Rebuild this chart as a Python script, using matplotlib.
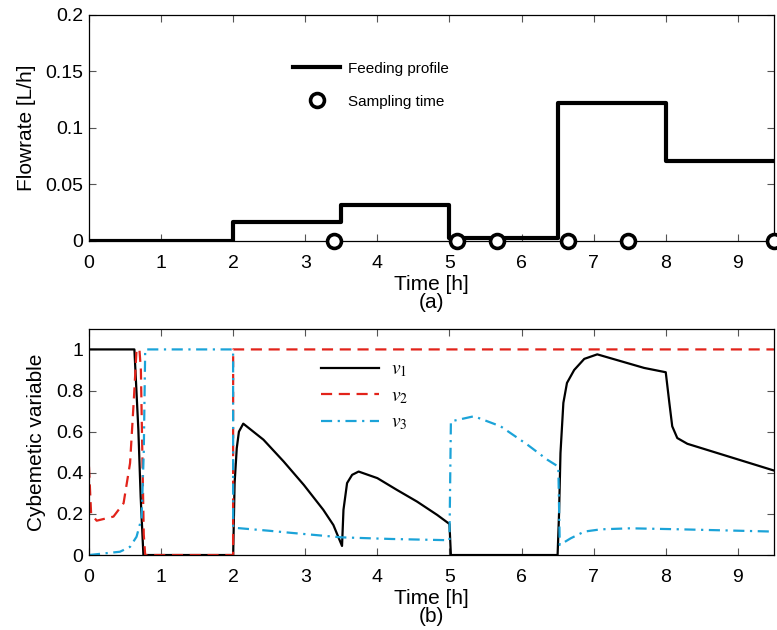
import matplotlib.pyplot as plt

plt.rcParams['font.family'] = ['Liberation Sans', 'DejaVu Sans']
plt.rcParams['mathtext.fontset'] = 'stix'

# (a) feeding profile, piecewise constant
feed_t = [0, 2.0, 3.5, 5.0, 6.5, 8.0, 9.5]
feed_q = [0.0, 0.017, 0.032, 0.003, 0.122, 0.071, 0.071]
sample_t = [3.4, 5.1, 5.66, 6.65, 7.48, 9.5]

# (b) cybernetic variables
t_v1 = [0, 0.63, 0.685, 0.717, 0.755, 2.0, 2.02, 2.05, 2.08, 2.14, 2.42, 2.70, 2.98,
        3.25, 3.39, 3.51, 3.53, 3.58, 3.65, 3.74, 4.0, 4.27, 4.55, 4.83, 5.0, 5.02,
        6.5, 6.52, 6.54, 6.58, 6.63, 6.73, 6.87, 7.05, 7.375, 7.70, 8.0, 8.05, 8.09,
        8.16, 8.30, 9.5]
v1 = [1.0, 1.0, 0.61, 0.284, 0.0, 0.0, 0.35, 0.52, 0.60, 0.639, 0.561, 0.455, 0.341,
      0.22, 0.146, 0.044, 0.22, 0.35, 0.39, 0.406, 0.374, 0.317, 0.26, 0.195, 0.151, 0.0,
      0.0, 0.20, 0.496, 0.74, 0.837, 0.90, 0.954, 0.976, 0.943, 0.91, 0.889, 0.74, 0.626,
      0.569, 0.541, 0.411]

t_v2 = [0, 0.03, 0.107, 0.34, 0.48, 0.57, 0.625, 0.66, 0.70, 0.72, 0.74, 0.76, 0.78,
        1.999, 2.0, 9.5]
v2 = [0.43, 0.20, 0.167, 0.187, 0.252, 0.447, 0.772, 1.0, 1.0, 0.9, 0.5, 0.1, 0.0,
      0.0, 1.0, 1.0]

t_v3 = [0, 0.43, 0.57, 0.66, 0.73, 0.76, 0.78, 1.999, 2.0, 2.5, 2.8, 3.5, 4.2, 5.0,
        5.02, 5.34, 5.71, 6.08, 6.36, 6.51, 6.53, 6.68, 6.87, 7.10, 7.51, 8.21, 9.5]
v3 = [0.0, 0.016, 0.04, 0.089, 0.18, 0.5, 1.0, 1.0, 0.133, 0.118, 0.108, 0.086, 0.078, 0.072,
      0.65, 0.675, 0.626, 0.537, 0.463, 0.43, 0.049, 0.081, 0.114, 0.125, 0.13, 0.125, 0.114]

x_ticks = list(range(10))

fig = plt.figure(figsize=(7.77, 6.3), dpi=100)
ax1 = fig.add_axes([0.1145, 0.6175, 0.8815, 0.3587])
ax2 = fig.add_axes([0.1145, 0.119, 0.8815, 0.359])

# top panel
ax1.plot(feed_t, feed_q, drawstyle='steps-post', color='black', lw=3.0, label='Feeding profile')
ax1.plot(sample_t, [0] * len(sample_t), 'o', ms=10, mfc='white', mec='black', mew=2.6,
         clip_on=False, zorder=5, label='Sampling time')
ax1.set_xlim(0, 9.5)
ax1.set_ylim(0, 0.2)
ax1.set_xticks(x_ticks)
ax1.set_yticks([0, 0.05, 0.1, 0.15, 0.2])
ax1.set_yticklabels(['0', '0.05', '0.1', '0.15', '0.2'])
ax1.set_ylabel('Flowrate [L/h]', fontsize=15, labelpad=7)
ax1.set_xlabel('Time [h]\n(a)', fontsize=15, labelpad=2, linespacing=0.95)
ax1.legend(loc='upper left', bbox_to_anchor=(0.278, 0.855), frameon=False, fontsize=11,
           handlelength=3.1, labelspacing=1.25, handletextpad=0.5)

# bottom panel
ax2.plot(t_v1, v1, color='black', lw=1.6, label=r'$v_1$')
ax2.plot(t_v2, v2, color='#e2231a', lw=1.6, dashes=(5, 3), label=r'$v_2$')
ax2.plot(t_v3, v3, color='#1ba3d8', lw=1.6, dashes=(5, 2.5, 1, 2.5), label=r'$v_3$')
ax2.set_xlim(0, 9.5)
ax2.set_ylim(0, 1.1)
ax2.set_xticks(x_ticks)
ax2.set_yticks([0, 0.2, 0.4, 0.6, 0.8, 1.0])
ax2.set_yticklabels(['0', '0.2', '0.4', '0.6', '0.8', '1'])
ax2.set_ylabel('Cybemetic variable', fontsize=15, labelpad=7)
ax2.set_xlabel('Time [h]\n(b)', fontsize=15, labelpad=2, linespacing=0.95)
ax2.legend(loc='upper left', bbox_to_anchor=(0.313, 0.935), frameon=False, fontsize=14,
           handlelength=3.0, labelspacing=0.42, handletextpad=0.6)

for ax in (ax1, ax2):
    ax.tick_params(direction='in', top=True, right=True, length=5, width=0.8,
                   labelsize=14, color='#555555')
    ax.tick_params(axis='x', pad=10)
    ax.tick_params(axis='y', pad=4)
    for s in ax.spines.values():
        s.set_linewidth(0.9)

fig.savefig('out.png', dpi=100)
